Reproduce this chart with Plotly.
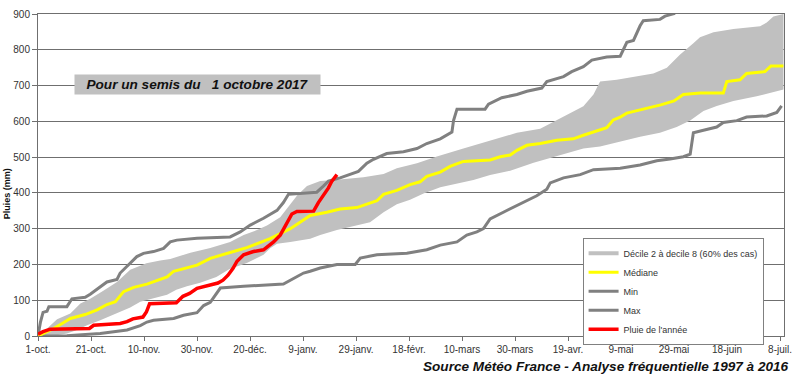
import plotly.graph_objects as go

# ---- data (x = days since 1 October, y = cumulative rain in mm) ----
tick_days = [0, 20, 40, 60, 80, 100, 120, 140, 160, 180, 200, 220, 240, 260, 280]
tick_labels = ["1-oct.", "21-oct.", "10-nov.", "30-nov.", "20-déc.", "9-janv.", "29-janv.",
               "18-févr.", "10-mars", "30-mars", "19-avr.", "9-mai", "29-mai", "18-juin", "8-juil."]

max_days = [0, 0.9, 1.9, 3.4, 4.1, 10.9, 12.8, 17.8, 19.7, 22.3, 26.0, 29.8, 31.0, 33.6, 37.3, 39.8,
            43.6, 47.4, 49.9, 52.4, 60.0, 72.5, 76.3, 80.1, 85.1, 90.2, 92.6, 94.5, 105.2, 107.7,
            109.6, 114.0, 117.8, 120.9, 124.1, 126.6, 131.6, 137.9, 143.0, 146.7, 151.8, 154.9,
            156.2, 156.8, 158.1, 168.7, 170.0, 175.0, 180.7, 184.5, 190.1, 192.0, 198.3, 201.4,
            205.8, 209.0, 214.6, 219.7, 220.9, 222.2, 224.7, 227.2, 228.4, 234.7, 236.6, 240.4]
max_mm = [0, 38, 66, 69, 82, 82, 104, 108, 117, 131, 151, 158, 176, 195, 222, 231,
          236, 245, 263, 268, 273, 277, 291, 310, 329, 351, 373, 396, 402, 419,
          433, 442, 451, 460, 483, 494, 510, 515, 524, 538, 551, 565,
          570, 602, 634, 634, 648, 666, 675, 684, 693, 711, 725, 739,
          753, 771, 780, 782, 803, 821, 826, 867, 881, 885, 894, 902]

min_days = [0, 10.9, 23.5, 33.6, 38.6, 41.1, 43.6, 51.2, 54.9, 60.0, 62.5, 65.0, 68.8, 77.6,
            92.6, 95.8, 100.2, 102.7, 106.5, 112.8, 119.7, 121.6, 124.1, 127.9, 139.2, 146.7,
            151.8, 158.1, 161.8, 165.6, 168.1, 170.6, 175.6, 180.7, 188.2, 192.0, 193.3, 198.3,
            204.6, 209.6, 219.7, 227.2, 233.5, 238.5, 243.5, 246.1, 247.3, 251.1, 256.1, 258.6,
            263.7, 267.4, 275.0, 278.8, 280.6]
min_mm = [0, 1, 7, 17, 29, 39, 44, 49, 58, 65, 85, 94, 134, 139,
          145, 158, 176, 181, 190, 200, 200, 218, 222, 227, 231, 241,
          254, 263, 282, 291, 300, 327, 346, 364, 392, 410, 428, 442,
          451, 465, 469, 478, 490, 495, 501, 508, 568, 575, 584, 597,
          602, 612, 615, 625, 643]

med_days = [0, 5.9, 9.1, 12.2, 17.8, 22.3, 26.0, 29.2, 32.3, 36.1, 41.1, 44.9, 48.7, 51.2, 54.3,
            60.0, 65.0, 70.0, 75.1, 78.8, 82.6, 87.6, 91.4, 95.2, 98.9, 102.7, 109.0, 114.0,
            120.3, 124.1, 127.9, 130.4, 135.4, 140.4, 144.2, 146.7, 151.8, 155.5, 160.5, 170.6,
            174.4, 178.2, 180.7, 184.5, 189.5, 195.8, 202.0, 205.8, 210.9, 214.6, 217.1, 219.7,
            222.2, 228.4, 235.0, 240.0, 243.5, 249.9, 258.6, 259.9, 264.9, 267.4, 274.3, 276.6, 281.3]
med_mm = [0, 21, 35, 49, 60, 73, 88, 96, 124, 136, 145, 156, 165, 181, 187,
          198, 217, 227, 239, 247, 258, 272, 286, 300, 318, 337, 346, 355,
          359, 368, 378, 396, 407, 423, 431, 446, 458, 474, 488, 492,
          501, 506, 519, 533, 538, 547, 551, 561, 572, 582, 604, 612,
          623, 634, 646, 657, 675, 679, 679, 711, 716, 734, 739, 755, 755]

d8_days = [0, 2.8, 7.2, 12.2, 16.0, 19.7, 24.5, 29.8, 34.8, 40.9, 46.1, 49.9, 57.5, 65.0, 72.5,
           77.6, 82.6, 86.4, 91.4, 93.9, 97.7, 101.5, 106.5, 112.8, 122.8, 130.4, 135.4, 143.0,
           150.5, 160.5, 170.6, 180.7, 189.5, 194.5, 199.5, 205.8, 209.6, 212.1, 218.4, 226.0,
           232.2, 237.3, 242.3, 247.3, 249.8, 254.9, 262.4, 272.5, 275.0, 277.5, 281.3]
d8_mm = [0, 17, 47, 63, 91, 104, 126, 151, 185, 203, 211, 215, 233, 246, 263,
         282, 296, 309, 332, 355, 392, 419, 433, 437, 444, 453, 469, 483,
         502, 524, 546, 568, 579, 598, 617, 642, 675, 711, 716, 725,
         734, 750, 787, 818, 835, 849, 858, 866, 876, 893, 900]

d2_days = [0, 5.9, 10.9, 14.7, 18.5, 23.5, 29.2, 34.8, 38.6, 43.6, 48.7, 52.2, 56.2, 61.2, 67.3,
           72.3, 78.8, 85.1, 87.6, 90.2, 95.2, 102.7, 106.5, 112.8, 120.3, 125.3, 130.4, 135.4,
           140.4, 145.5, 151.8, 156.8, 164.3, 170.6, 178.2, 187.0, 195.8, 205.8, 212.1, 219.7,
           227.2, 234.7, 241.0, 246.1, 251.1, 256.1, 262.4, 271.2, 281.3]
d2_mm = [0, 1, 7, 17, 30, 44, 62, 80, 96, 106, 115, 129, 139, 149, 165,
         187, 204, 227, 245, 258, 263, 272, 282, 296, 309, 318, 346, 368,
         381, 398, 416, 425, 436, 450, 462, 484, 503, 524, 530, 543,
         557, 568, 584, 602, 629, 643, 657, 670, 689]

year_days = [0, 1.9, 4.6, 19.4, 21.0, 31.0, 33.6, 35.8, 39.6, 40.9, 42.1, 52.2, 54.7, 57.2, 60.0,
             65.0, 67.9, 69.8, 71.7, 73.6, 75.1, 77.6, 81.3, 85.1, 88.9, 91.4, 93.3, 95.8, 97.7,
             104.0, 105.8, 108.4, 109.6, 110.9, 112.8]
year_mm = [5, 12, 19, 21, 30, 35, 40, 48, 53, 67, 90, 93, 111, 119, 133,
           143, 148, 156, 170, 189, 209, 227, 236, 241, 263, 282, 309, 341, 348,
           349, 373, 401, 414, 433, 451]

FONT = "Arial, 'Liberation Sans', sans-serif"
GRID = "#6f6f6f"
GREY_LINE = "#808080"
BAND = "#c0c0c0"

fig = go.Figure()

# decile band (polygon: upper edge forward, lower edge backward)
fig.add_trace(go.Scatter(
    x=d8_days + d2_days[::-1], y=d8_mm + d2_mm[::-1],
    fill="toself", fillcolor=BAND, line=dict(width=0, color=BAND),
    mode="lines", showlegend=False, hoverinfo="skip"))
# legend entry for the band
fig.add_trace(go.Scatter(x=[None], y=[None], mode="lines", name="Décile 2 à decile 8 (60% des cas)",
                         line=dict(color=BAND, width=4), legendrank=1))

fig.add_trace(go.Scatter(x=min_days, y=min_mm, mode="lines", name="Min",
                         line=dict(color=GREY_LINE, width=3), legendrank=3))
fig.add_trace(go.Scatter(x=max_days, y=max_mm, mode="lines", name="Max",
                         line=dict(color=GREY_LINE, width=3), legendrank=4))
fig.add_trace(go.Scatter(x=med_days, y=med_mm, mode="lines", name="Médiane",
                         line=dict(color="#ffff00", width=3), legendrank=2))
fig.add_trace(go.Scatter(x=year_days, y=year_mm, mode="lines", name="Pluie de l'année",
                         line=dict(color="#ff0000", width=3.5), legendrank=5))

fig.update_layout(
    width=800, height=379,
    margin=dict(l=38, r=16, t=8, b=43),
    paper_bgcolor="white", plot_bgcolor="white",
    font=dict(family=FONT, size=10, color="#333333"),
    legend=dict(x=0.73, y=0.305, xanchor="left", yanchor="top",
                bgcolor="white", bordercolor=GREY_LINE, borderwidth=1,
                font=dict(family=FONT, size=9, color="#333333"),
                tracegroupgap=0),
    xaxis=dict(range=[0, 281.5], tickvals=tick_days, ticktext=tick_labels,
               showgrid=False, zeroline=False, showline=True, linecolor=GRID, linewidth=1,
               mirror=True, ticks="outside", ticklen=4, tickcolor=GRID,
               tickfont=dict(size=10, color="#333333")),
    yaxis=dict(range=[0, 900], tickvals=list(range(0, 901, 100)),
               showgrid=True, gridcolor=GRID, gridwidth=1, zeroline=False,
               showline=True, linecolor=GRID, linewidth=1, mirror=True,
               ticks="outside", ticklen=5, tickcolor=GRID,
               tickfont=dict(size=10, color="#333333")),
    annotations=[
        dict(text="<b><i>Pour un semis du\u00a0\u00a0\u00a01 octobre 2017</i></b>",
             xref="paper", yref="paper", x=0.214, y=0.782, xanchor="center", yanchor="middle",
             showarrow=False, bgcolor=BAND, width=243, height=17, borderpad=1, align="center",
             font=dict(family=FONT, size=13.6, color="#111111")),
        dict(text="<b><i>Source Météo France - Analyse fréquentielle 1997 à 2016</i></b>",
             xref="paper", yref="paper", x=1.009, y=-0.095, xanchor="right", yanchor="middle",
             showarrow=False, font=dict(family=FONT, size=13.6, color="#111111")),
        dict(text="<b>Pluies (mm)</b>", textangle=-90,
             xref="paper", yref="paper", x=-0.042, y=0.442, xanchor="center", yanchor="middle",
             showarrow=False, font=dict(family=FONT, size=9, color="#111111")),
    ],
)

fig.write_html("out.html", config={"displayModeBar": False},
               post_script="document.body.style.margin='0';document.body.style.overflow='hidden';")
